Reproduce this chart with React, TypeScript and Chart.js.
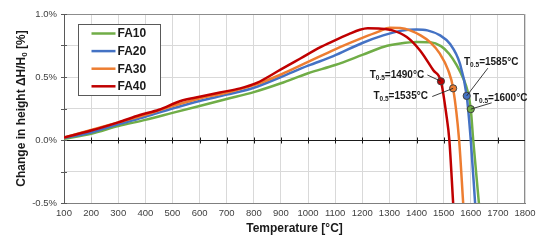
import React, { useEffect, useRef } from 'react';
import { Chart, registerables } from 'chart.js';

Chart.register(...registerables);

const FONT = '"Liberation Sans", Arial, sans-serif';

const seriesNames = ['FA10', 'FA20', 'FA30', 'FA40'];
const seriesColors = ['#70AD47', '#4472C4', '#ED7D31', '#C00000'];

const fa10Temps = [100, 200, 300, 400, 500, 600, 700, 800, 900, 1000, 1100, 1200, 1280, 1340, 1400, 1450, 1490, 1520, 1548, 1572, 1588, 1600, 1609, 1630];
const fa10Values = [0.01, 0.05, 0.11, 0.16, 0.215, 0.27, 0.325, 0.38, 0.45, 0.53, 0.595, 0.675, 0.74, 0.765, 0.777, 0.775, 0.745, 0.685, 0.595, 0.49, 0.39, 0.245, 0.0, -0.5];

const fa20Temps = [100, 200, 300, 400, 500, 600, 700, 800, 900, 1000, 1093, 1200, 1277, 1340, 1400, 1440, 1487, 1523, 1560, 1585, 1600, 1616];
const fa20Values = [0.015, 0.06, 0.125, 0.185, 0.25, 0.31, 0.36, 0.415, 0.5, 0.59, 0.665, 0.77, 0.83, 0.866, 0.877, 0.87, 0.83, 0.764, 0.606, 0.35, 0.0, -0.5];

const fa30Temps = [100, 200, 300, 400, 500, 600, 700, 800, 900, 1000, 1100, 1200, 1260, 1302, 1340, 1376, 1415, 1450, 1486, 1517, 1535, 1557, 1572];
const fa30Values = [0.02, 0.08, 0.14, 0.2, 0.27, 0.33, 0.375, 0.435, 0.52, 0.62, 0.72, 0.81, 0.86, 0.89, 0.888, 0.87, 0.83, 0.777, 0.685, 0.553, 0.41, 0.0, -0.5];

const fa40Temps = [100, 200, 300, 380, 450, 530, 600, 675, 750, 811, 900, 970, 1044, 1093, 1150, 1191, 1220, 1260, 1314, 1364, 1413, 1462, 1490, 1510, 1521, 1535];
const fa40Values = [0.02, 0.075, 0.14, 0.198, 0.24, 0.31, 0.343, 0.377, 0.41, 0.453, 0.56, 0.645, 0.735, 0.785, 0.84, 0.875, 0.887, 0.884, 0.868, 0.817, 0.71, 0.553, 0.466, 0.2, 0.0, -0.5];

const seriesTemps = [fa10Temps, fa20Temps, fa30Temps, fa40Temps];
const seriesValues = [fa10Values, fa20Values, fa30Values, fa40Values];

// T0.5 markers (one per series)
const t05Temps = [1600, 1585, 1535, 1490];
const t05Values = [0.245, 0.35, 0.41, 0.466];
const t05Texts = ['=1600°C', '=1585°C', '=1535°C', '=1490°C'];

// label anchors (data space) and leader starts
const labelAnchorT = [1608, 1575, 1442, 1428];
const labelAnchorV = [0.334, 0.619, 0.345, 0.516];
const labelAlign = ['left', 'left', 'right', 'right'];
const leaderStartT = [1677, 1663, 1458, 1440];
const leaderStartV = [0.295, 0.57, 0.345, 0.516];

const xMin = 100;
const xMax = 1800;
const xStep = 100;
const yMin = -0.5;
const yMax = 1.0;
const yStep = 0.25;

const overlayPlugin = {
  id: 'overlay',
  beforeDatasetsDraw(chart: any) {
    const { ctx, chartArea: a, scales } = chart;
    const xs = scales.x;
    const ys = scales.y;
    ctx.save();
    ctx.strokeStyle = '#8c8c8c';
    ctx.lineWidth = 1;
    ctx.beginPath();
    ctx.moveTo(a.left, a.top + 0.5);
    ctx.lineTo(a.right - 0.5, a.top + 0.5);
    ctx.lineTo(a.right - 0.5, a.bottom);
    ctx.stroke();
    const y0 = Math.round(ys.getPixelForValue(0)) + 0.5;
    ctx.strokeStyle = '#1a1a1a';
    ctx.lineWidth = 1.2;
    ctx.beginPath();
    ctx.moveTo(a.left, y0);
    ctx.lineTo(a.right, y0);
    ctx.stroke();
    ctx.lineWidth = 1;
    ctx.beginPath();
    for (let t = xMin + xStep; t < xMax; t += xStep) {
      const px = Math.round(xs.getPixelForValue(t)) + 0.5;
      ctx.moveTo(px, y0 - 3);
      ctx.lineTo(px, y0 + 3);
    }
    ctx.stroke();
    ctx.strokeStyle = '#595959';
    ctx.beginPath();
    for (let v = yMin; v <= yMax + 1e-9; v += yStep) {
      const py = Math.round(ys.getPixelForValue(v)) + 0.5;
      ctx.moveTo(a.left - 3, py);
      ctx.lineTo(a.left + 3, py);
    }
    ctx.stroke();
    ctx.restore();
  },
  afterDatasetsDraw(chart: any) {
    const { ctx, chartArea: a, scales } = chart;
    const xs = scales.x;
    const ys = scales.y;
    ctx.save();
    const big = `bold 10px ${FONT}`;
    const small = `bold 6.5px ${FONT}`;
    for (let i = 0; i < t05Temps.length; i++) {
      const mx = xs.getPixelForValue(t05Temps[i]);
      const my = ys.getPixelForValue(t05Values[i]);
      const lx = xs.getPixelForValue(leaderStartT[i]);
      const ly = ys.getPixelForValue(leaderStartV[i]);
      ctx.strokeStyle = '#262626';
      ctx.lineWidth = 0.9;
      ctx.beginPath();
      ctx.moveTo(lx, ly);
      ctx.lineTo(mx, my);
      ctx.stroke();

      const ax = xs.getPixelForValue(labelAnchorT[i]);
      const ay = ys.getPixelForValue(labelAnchorV[i]);
      ctx.font = big;
      const wT = ctx.measureText('T').width;
      const wRest = ctx.measureText(t05Texts[i]).width;
      ctx.font = small;
      const wSub = ctx.measureText('0.5').width;
      const total = wT + wSub + wRest;
      const sx = labelAlign[i] === 'right' ? ax - total : ax;
      ctx.fillStyle = '#1a1a1a';
      ctx.textBaseline = 'middle';
      ctx.textAlign = 'left';
      ctx.font = big;
      ctx.fillText('T', sx, ay);
      ctx.font = small;
      ctx.fillText('0.5', sx + wT, ay + 3);
      ctx.font = big;
      ctx.fillText(t05Texts[i], sx + wT + wSub, ay);
    }
    // legend
    const bx = a.left + 14.5;
    const by = a.top + 10.5;
    const bw = 82;
    const bh = 71;
    ctx.fillStyle = '#ffffff';
    ctx.fillRect(bx, by, bw, bh);
    ctx.strokeStyle = '#595959';
    ctx.lineWidth = 1;
    ctx.strokeRect(bx, by, bw, bh);
    ctx.font = `bold 12px ${FONT}`;
    ctx.textBaseline = 'middle';
    for (let i = 0; i < seriesNames.length; i++) {
      const ey = by + 9 + i * 17.6;
      ctx.strokeStyle = seriesColors[i];
      ctx.lineWidth = 2.5;
      ctx.beginPath();
      ctx.moveTo(bx + 13, ey);
      ctx.lineTo(bx + 37, ey);
      ctx.stroke();
      ctx.fillStyle = '#1a1a1a';
      ctx.fillText(seriesNames[i], bx + 39, ey + 0.5);
    }
    ctx.restore();
  },
  afterDraw(chart: any) {
    const { ctx, chartArea: a } = chart;
    ctx.save();
    const cy = (a.top + a.bottom) / 2;
    ctx.translate(22, cy);
    ctx.rotate(-Math.PI / 2);
    const big = `bold 12px ${FONT}`;
    const small = `bold 8px ${FONT}`;
    const p1 = 'Change in height ΔH/H';
    const p2 = '0';
    const p3 = ' [%]';
    ctx.font = big;
    const w1 = ctx.measureText(p1).width;
    const w3 = ctx.measureText(p3).width;
    ctx.font = small;
    const w2 = ctx.measureText(p2).width;
    const total = w1 + w2 + w3;
    const x = -total / 2;
    ctx.fillStyle = '#1a1a1a';
    ctx.textBaseline = 'middle';
    ctx.textAlign = 'left';
    ctx.font = big;
    ctx.fillText(p1, x, 0);
    ctx.font = small;
    ctx.fillText(p2, x + w1, 3);
    ctx.font = big;
    ctx.fillText(p3, x + w1 + w2, 0);
    ctx.restore();
  },
};

export default function App() {
  const ref = useRef<HTMLCanvasElement | null>(null);
  useEffect(() => {
    if (!ref.current) return;
    const lineSets = seriesNames.map((name, i) => ({
      type: 'line' as const,
      label: name,
      data: seriesTemps[i].map((t, j) => ({ x: t, y: seriesValues[i][j] })),
      borderColor: seriesColors[i],
      backgroundColor: seriesColors[i],
      borderWidth: 2.5,
      pointRadius: 0,
      cubicInterpolationMode: 'monotone' as const,
      fill: false,
      order: 4 - i + 1,
    }));
    const markerSets = seriesNames.map((name, i) => ({
      type: 'line' as const,
      label: name + ' T0.5',
      data: [{ x: t05Temps[i], y: t05Values[i] }],
      showLine: false,
      pointRadius: 3.6,
      pointBackgroundColor: seriesColors[i],
      pointBorderColor: '#404040',
      pointBorderWidth: 1,
      order: 0,
    }));
    const chart = new Chart(ref.current, {
      type: 'line',
      data: { datasets: [...lineSets, ...markerSets] as any },
      options: {
        animation: false,
        responsive: false,
        devicePixelRatio: 1,
        layout: { padding: { top: 14, right: 25, left: 0, bottom: 0 } },
        plugins: { legend: { display: false }, tooltip: { enabled: false } },
        scales: {
          x: {
            type: 'linear',
            min: xMin,
            max: xMax,
            ticks: {
              stepSize: xStep,
              color: '#404040',
              font: { size: 9.5, family: FONT },
              padding: 5,
              maxRotation: 0,
              autoSkip: false,
              callback: (v: any) => String(v),
            },
            grid: { color: '#d9d9d9', drawTicks: false },
            border: { color: '#7f7f7f', width: 1 },
            title: {
              display: true,
              text: 'Temperature [°C]',
              color: '#1a1a1a',
              font: { size: 12, weight: 'bold', family: FONT },
              padding: { top: 0, bottom: 6 },
            },
            afterFit: (s: any) => {
              s.height = 39;
            },
          },
          y: {
            type: 'linear',
            min: yMin,
            max: yMax,
            ticks: {
              stepSize: yStep,
              color: '#404040',
              font: { size: 9.5, family: FONT },
              padding: 7,
              callback: (v: any) => {
                const n = Number(v);
                return Math.abs(n * 2 - Math.round(n * 2)) < 1e-9 ? n.toFixed(1) + '%' : '';
              },
            },
            grid: { color: '#d9d9d9', drawTicks: false },
            border: { color: '#595959', width: 1 },
            afterFit: (s: any) => {
              s.width = 64;
            },
          },
        },
      } as any,
      plugins: [overlayPlugin],
    });
    return () => chart.destroy();
  }, []);
  return (
    <div style={{ position: 'absolute', left: 0, top: 0, width: 550, height: 242, background: '#fff' }}>
      <canvas ref={ref} width={550} height={242} style={{ display: 'block' }} />
    </div>
  );
}
